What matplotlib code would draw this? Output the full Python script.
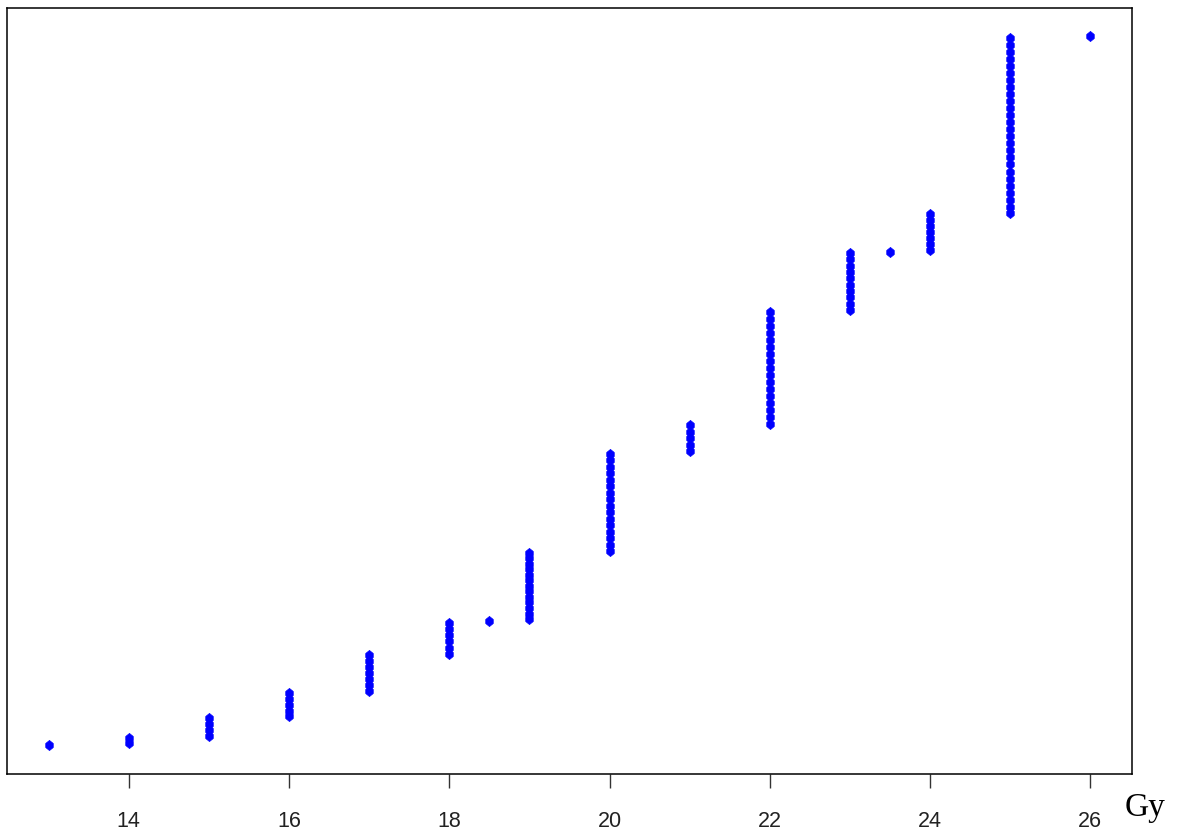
import matplotlib
matplotlib.use("Agg")
import matplotlib.pyplot as plt
from matplotlib import font_manager

# ---- data (dose in Gy, y values, arbitrary units) ----
dose_levels = [13, 14, 15, 16, 17, 18, 18.5, 19, 20, 21, 22, 23, 23.5, 24, 25, 26]
y_13 = [27.5]
y_14 = [35, 30]
y_15 = [54.5, 48.5, 42.5, 36.5]
y_16 = [79.5, 74, 68, 62, 56.5]
y_17 = [117.5, 111.5, 105.5, 99.5, 93.5, 87.5, 81.5]
y_18 = [150, 144, 138, 132, 125, 119]
y_18_5 = [152]
y_19 = [219.5, 214, 208.5, 203, 197.5, 192, 186.5, 181, 175.5, 170, 164.5, 159, 153.5]
y_20 = [318.5, 312, 305.5, 299, 292.5, 286, 279.5, 273, 266.5, 260, 253.5, 247,
        240.5, 234, 227.5, 221]
y_21 = [347, 340.5, 334, 327.5, 321]
y_22 = [460, 453, 446, 439, 432, 425, 418, 411, 404, 397, 390, 383, 376, 369,
        362, 355, 348]
y_23 = [519, 513, 506, 500, 494, 487, 481, 475, 468, 462]
y_23_5 = [520]
y_24 = [558.5, 552.5, 546, 540, 534, 528, 522]
y_25 = [733.5, 726.5, 719.5, 712.5, 705.5, 698.5, 691.5, 684.5, 677.5, 670.5,
        663.5, 656.5, 649.5, 642.5, 635.5, 628.5, 621.5, 614.5, 607.5, 600.5,
        593.5, 586.5, 579.5, 572.5, 565.5, 559]
y_26 = [735.5]
x_ticks = [14, 16, 18, 20, 22, 24, 26]
x_label = "Gy"

columns = [y_13, y_14, y_15, y_16, y_17, y_18, y_18_5, y_19, y_20, y_21, y_22,
           y_23, y_23_5, y_24, y_25, y_26]

xs, ys = [], []
for d, col in zip(dose_levels, columns):
    for v in col:
        xs.append(d)
        ys.append(v)

# ---- figure ----
W, H = 1181, 832
fig = plt.figure(figsize=(W / 100, H / 100), dpi=100)
L, R, T, B = 7, 1132, 8, 773.5
ax = fig.add_axes([L / W, (H - B) / H, (R - L) / W, (B - T) / H])

# R-like filled diamond, slightly blunted on the sides
marker_shape = [(0, 1), (0.74, 0.4), (0.74, -0.4), (0, -1),
                (-0.74, -0.4), (-0.74, 0.4), (0, 1)]
ax.plot(xs, ys, linestyle="none", marker=marker_shape, markersize=7.3,
        color="#0000ff", markeredgecolor="#0000ff", markeredgewidth=0.5)

xmin, xmax = min(xs), max(xs)
ymin, ymax = min(ys), max(ys)
px = 0.04 * (xmax - xmin)
py = 0.04 * (ymax - ymin)
ax.set_xlim(xmin - px, xmax + px)
ax.set_ylim(ymin - py, ymax + py)

for s in ax.spines.values():
    s.set_linewidth(1.1)
    s.set_color("black")

avail = {f.name for f in font_manager.fontManager.ttflist}
tick_family = ["Liberation Sans Narrow", "DejaVu Sans"] if "Liberation Sans Narrow" in avail \
    else ["Liberation Sans", "DejaVu Sans"]

ax.set_xticks(x_ticks)
ax.set_xticklabels([str(t) for t in x_ticks], family=tick_family, fontsize=15.5,
                   color="#222222")
ax.tick_params(axis="x", length=10, width=1.0, color="#333333", pad=17)
ax.set_yticks([])

fig.text(1125 / W, 16 / H, x_label, family=["Liberation Serif", "DejaVu Serif"],
         fontsize=24, ha="left", va="baseline", color="black")

fig.savefig("out.png", dpi=100, facecolor="white")
